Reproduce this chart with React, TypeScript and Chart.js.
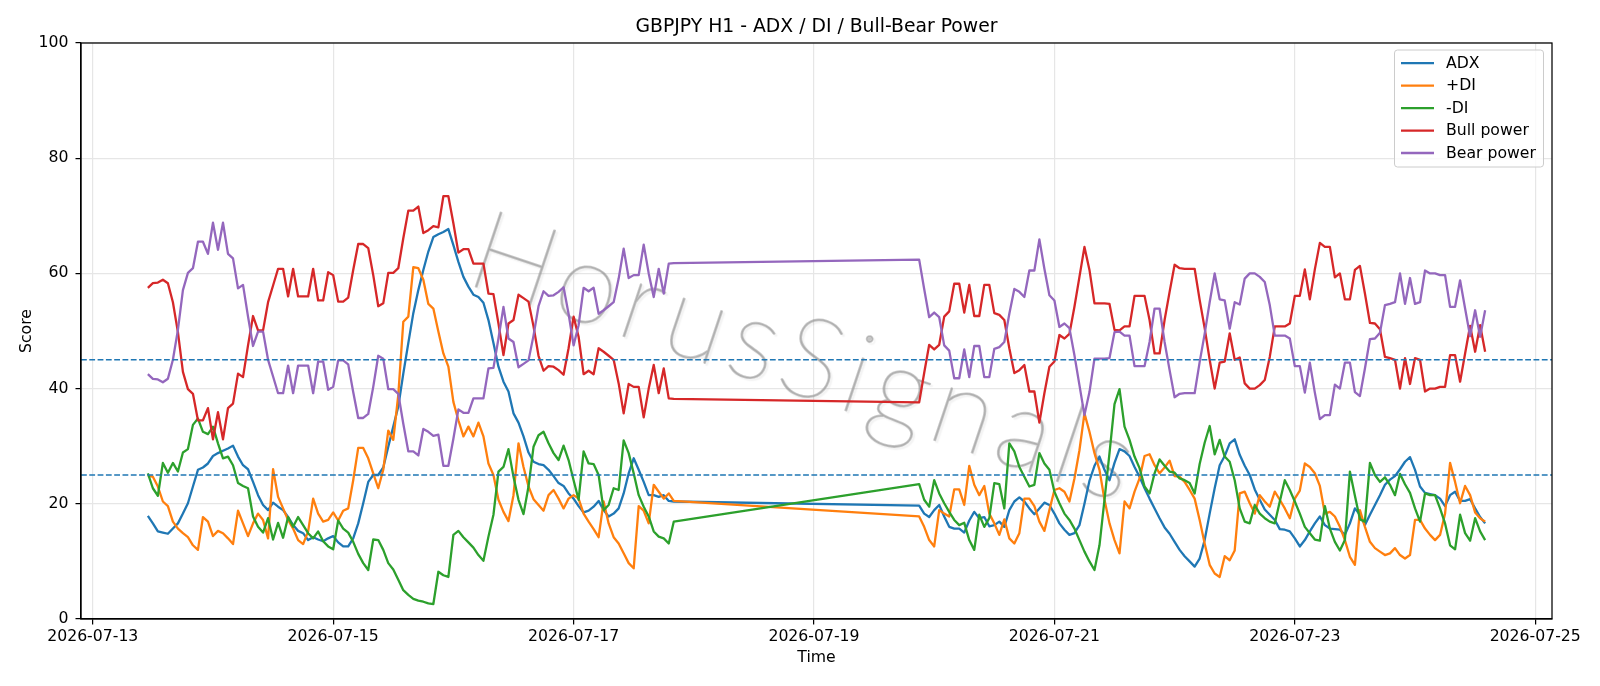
import React, { useEffect, useRef } from "react";
import { Chart, registerables } from "chart.js";

Chart.register(...registerables);

const TITLE = "GBPJPY H1 - ADX / DI / Bull-Bear Power";
const WATERMARK = "HorusSignals";
const X_LABEL = "Time";
const Y_LABEL = "Score";

// hourly candles, two trading sessions (weekend gap in between)
const SESSION_STARTS = ["2026-07-13T11:00:00Z", "2026-07-19T21:00:00Z"];
const X_TICK_LABELS = ["2026-07-13", "2026-07-15", "2026-07-17", "2026-07-19", "2026-07-21", "2026-07-23", "2026-07-25"];
const THRESHOLDS = [45, 25];

const ADX_WEEK1 = [
  17.9, 16.6, 15.2, 15.0, 14.8, 15.7, 16.6, 18.3, 20.1, 23.0,
  25.9, 26.3, 27.0, 28.3, 28.8, 29.2, 29.6, 30.1, 28.2, 26.7,
  26.0, 23.8, 21.5, 19.8, 18.9, 20.2, 19.5, 18.9, 17.7, 16.3,
  15.3, 14.9, 13.7, 14.2, 13.8, 13.5, 14.0, 14.4, 13.3, 12.6,
  12.6, 14.0, 16.6, 20.1, 23.8, 25.0, 25.0, 26.3, 29.9, 33.4,
  36.9, 42.6, 47.9, 53.1, 57.1, 60.6, 63.8, 66.3, 66.8, 67.2,
  67.7, 64.9, 62.0, 59.4, 57.7, 56.3, 55.9, 54.9, 51.9, 47.9,
  43.8, 41.2, 39.5, 35.7, 34.1, 31.7, 28.9, 27.3, 26.9, 26.7,
  25.9, 24.8, 23.6, 23.1, 21.8, 20.9, 19.6, 18.5, 18.8, 19.5,
  20.5, 18.9, 17.8, 18.3, 19.2, 21.8, 25.3, 27.9, 25.9, 23.8,
  21.5, 21.5, 21.2, 21.5, 20.5, 20.4,
];
const ADX_WEEK2 = [
  19.7, 18.3, 17.7, 18.9, 19.8, 17.8, 16.0, 15.7, 15.7, 15.0,
  17.1, 18.6, 17.5, 17.7, 16.1, 16.3, 16.9, 16.0, 18.9, 20.4,
  21.1, 20.4, 19.2, 18.2, 19.2, 20.2, 19.8, 18.3, 16.6, 15.5,
  14.6, 14.9, 16.3, 20.0, 24.0, 26.6, 28.2, 25.9, 24.1, 27.1,
  29.5, 29.1, 28.3, 26.4, 24.7, 22.7, 20.9, 19.2, 17.5, 15.9,
  14.8, 13.4, 12.0, 10.9, 10.0, 9.1, 10.5, 13.7, 18.3, 22.7,
  26.7, 28.3, 30.5, 31.2, 28.5, 26.6, 25.0, 22.5, 20.7, 19.0,
  18.1, 17.2, 15.6, 15.5, 15.2, 14.0, 12.6, 13.7, 15.2, 16.6,
  17.8, 16.3, 15.7, 15.6, 15.5, 14.6, 16.6, 19.2, 18.1, 16.3,
  18.1, 19.8, 21.5, 23.3, 24.2, 24.8, 26.0, 27.3, 28.1, 25.9,
  23.0, 21.9, 21.7, 21.5, 20.9, 19.6, 21.5, 22.1, 20.5, 20.5,
  20.8, 19.2, 17.7, 16.6,
];

const PLUS_DI_WEEK1 = [
  24.8, 24.7, 23.0, 20.4, 19.6, 16.9, 15.7, 14.9, 14.2, 12.8,
  12.0, 17.7, 16.9, 14.4, 15.3, 14.9, 14.0, 13.0, 18.8, 16.6,
  14.4, 16.6, 18.3, 17.2, 14.0, 26.0, 21.2, 19.2, 17.2, 15.7,
  13.7, 13.0, 15.2, 20.9, 18.3, 16.9, 17.2, 18.5, 17.1, 18.8,
  19.2, 24.1, 29.7, 29.7, 27.9, 25.3, 22.7, 25.9, 32.7, 31.1,
  38.9, 51.6, 52.5, 61.1, 60.9, 58.9, 54.7, 53.9, 49.9, 46.1,
  43.8, 37.7, 34.5, 31.7, 33.4, 31.7, 34.1, 31.7, 27.0, 25.0,
  20.7, 18.6, 17.0, 21.5, 30.5, 26.4, 23.0, 20.8, 19.8, 18.8,
  21.5, 22.4, 20.9, 19.2, 20.9, 21.5, 20.9, 18.3, 16.9, 15.6,
  14.2, 20.4, 16.6, 14.2, 13.1, 11.4, 9.7, 8.8, 19.6, 18.8,
  16.6, 23.3, 22.1, 20.9, 21.8, 20.5,
];
const PLUS_DI_WEEK2 = [
  17.8, 16.0, 13.7, 12.6, 18.9, 18.3, 17.8, 22.5, 22.5, 19.8,
  26.6, 23.3, 21.5, 23.1, 18.3, 16.6, 14.6, 17.3, 14.0, 13.1,
  14.9, 20.9, 20.9, 19.6, 16.9, 15.3, 18.9, 22.4, 22.7, 22.1,
  20.4, 24.4, 29.3, 35.7, 32.5, 28.8, 25.9, 20.7, 16.6, 13.7,
  11.4, 20.4, 19.2, 22.1, 24.4, 28.3, 28.6, 26.7, 25.3, 26.3,
  27.5, 24.8, 24.7, 23.8, 22.4, 20.9, 17.2, 13.1, 9.4, 7.9,
  7.3, 10.9, 10.2, 11.9, 21.8, 22.1, 20.1, 18.3, 21.5, 20.4,
  19.5, 22.1, 20.7, 19.2, 17.5, 20.9, 22.3, 27.0, 26.4, 25.3,
  23.1, 18.3, 18.6, 17.8, 16.0, 13.7, 10.8, 9.4, 18.9, 16.0,
  13.4, 12.3, 11.7, 11.1, 11.4, 12.3, 11.1, 10.5, 11.1, 17.2,
  17.2, 15.7, 14.6, 13.7, 14.6, 18.3, 27.1, 23.8, 20.1, 23.1,
  21.5, 18.5, 17.5, 16.9,
];

const MINUS_DI_WEEK1 = [
  25.3, 22.7, 21.4, 27.1, 25.4, 27.1, 25.6, 28.9, 29.5, 33.7,
  34.8, 32.5, 32.1, 33.4, 30.5, 27.9, 28.2, 26.7, 23.6, 23.1,
  22.7, 17.8, 16.0, 15.0, 17.5, 13.8, 16.7, 14.1, 17.7, 16.0,
  17.7, 16.3, 14.9, 14.0, 15.2, 13.5, 12.6, 12.1, 17.1, 15.7,
  15.0, 13.4, 11.3, 9.7, 8.5, 13.8, 13.7, 12.0, 9.7, 8.6,
  6.8, 5.0, 4.2, 3.5, 3.2, 3.0, 2.7, 2.6, 8.2, 7.6,
  7.3, 14.6, 15.3, 14.2, 13.3, 12.4, 11.1, 10.1, 14.3, 18.1,
  25.6, 26.4, 29.5, 24.7, 20.7, 18.2, 23.0, 29.9, 31.9, 32.5,
  30.5, 28.8, 27.6, 30.1, 27.6, 24.1, 20.7, 29.1, 27.0, 26.9,
  25.0, 18.9, 19.8, 22.7, 22.4, 31.0, 28.8, 25.3, 21.5, 19.5,
  17.8, 15.2, 14.3, 14.0, 13.1, 16.9,
];
const MINUS_DI_WEEK2 = [
  23.4, 20.7, 19.5, 24.1, 21.8, 20.1, 18.6, 17.2, 16.3, 16.7,
  13.7, 12.0, 18.1, 16.0, 17.5, 23.6, 23.4, 19.2, 30.5, 29.1,
  26.4, 24.7, 23.0, 23.3, 28.8, 27.0, 25.9, 22.1, 20.1, 18.3,
  17.2, 15.7, 13.7, 11.7, 10.0, 8.5, 12.8, 20.7, 28.8, 37.3,
  39.9, 33.4, 31.1, 28.2, 26.2, 23.0, 21.8, 25.3, 27.7, 26.6,
  25.6, 25.4, 24.4, 24.1, 23.6, 21.8, 26.9, 30.6, 33.5, 28.6,
  31.1, 28.2, 27.3, 24.1, 19.2, 16.9, 16.6, 19.8, 18.3, 17.5,
  16.9, 16.6, 20.4, 24.1, 22.4, 20.4, 18.3, 16.0, 14.9, 13.8,
  13.6, 19.6, 15.7, 13.4, 11.9, 13.7, 25.6, 21.4, 17.3, 16.9,
  27.1, 25.0, 23.8, 24.6, 23.3, 21.5, 25.2, 23.4, 21.9, 19.2,
  16.9, 21.8, 21.5, 21.5, 19.2, 16.6, 12.8, 12.1, 18.1, 14.9,
  13.6, 17.5, 15.2, 13.7,
];

const BULL_WEEK1 = [
  57.5, 58.3, 58.4, 58.9, 58.3, 55.0, 49.8, 42.9, 39.9, 39.1,
  34.5, 34.5, 36.6, 31.2, 35.9, 31.2, 36.6, 37.4, 42.6, 42.0,
  47.5, 52.6, 50.1, 50.1, 55.0, 57.9, 60.8, 60.8, 56.0, 60.8,
  56.0, 56.0, 56.0, 60.8, 55.3, 55.3, 60.2, 59.7, 55.1, 55.1,
  55.8, 60.6, 65.1, 65.1, 64.4, 59.7, 54.3, 54.8, 60.1, 60.1,
  60.9, 66.1, 70.9, 70.9, 71.6, 67.0, 67.5, 68.2, 68.0, 73.4,
  73.4, 68.7, 63.6, 64.2, 64.2, 61.7, 61.7, 61.7, 56.5, 56.4,
  51.3, 45.8, 51.3, 51.9, 56.3, 55.7, 55.1, 50.8, 45.7, 43.1,
  43.9, 43.8, 43.2, 42.4, 47.0, 52.5, 49.0, 42.5, 43.1, 42.5,
  47.0, 46.4, 45.7, 45.0, 40.9, 35.7, 40.8, 40.3, 40.3, 35.0,
  40.0, 44.1, 39.2, 43.5, 38.3, 38.2,
];
const BULL_WEEK2 = [
  37.6, 42.7, 47.6, 46.8, 47.6, 52.5, 53.4, 58.2, 58.2, 53.2,
  58.0, 52.6, 52.6, 58.0, 58.0, 53.1, 52.8, 51.9, 47.0, 42.7,
  43.2, 44.1, 39.5, 39.5, 34.1, 39.2, 43.8, 44.7, 49.3, 48.7,
  49.5, 54.2, 59.4, 64.6, 60.6, 54.8, 54.8, 54.8, 54.7, 50.2,
  50.1, 50.8, 50.8, 56.1, 56.1, 56.1, 51.9, 46.1, 46.1, 51.9,
  56.8, 61.5, 60.9, 60.8, 60.8, 60.8, 55.4, 50.5, 45.0, 40.0,
  44.5, 44.7, 49.6, 45.0, 45.4, 40.9, 40.0, 40.0, 40.6, 41.5,
  45.5, 50.8, 50.8, 50.8, 51.3, 56.1, 56.1, 60.7, 55.5, 60.7,
  65.3, 64.6, 64.6, 59.3, 60.0, 55.5, 55.5, 60.6, 61.3, 56.5,
  51.4, 51.3, 50.3, 45.5, 45.3, 45.0, 40.0, 45.3, 40.8, 45.3,
  45.0, 39.5, 40.0, 40.0, 40.3, 40.3, 45.8, 45.8, 41.2, 46.1,
  50.9, 46.4, 51.0, 46.4,
];

const BEAR_WEEK1 = [
  42.5, 41.7, 41.6, 41.1, 41.7, 45.0, 50.2, 57.1, 60.1, 60.9,
  65.5, 65.5, 63.4, 68.8, 64.1, 68.8, 63.4, 62.6, 57.4, 58.0,
  52.5, 47.4, 49.9, 49.9, 45.0, 42.1, 39.2, 39.2, 44.0, 39.2,
  44.0, 44.0, 44.0, 39.2, 44.7, 44.7, 39.8, 40.3, 44.9, 44.9,
  44.2, 39.4, 34.9, 34.9, 35.6, 40.3, 45.7, 45.2, 39.9, 39.9,
  39.1, 33.9, 29.1, 29.1, 28.4, 33.0, 32.5, 31.8, 32.0, 26.6,
  26.6, 31.3, 36.4, 35.8, 35.8, 38.3, 38.3, 38.3, 43.5, 43.6,
  48.7, 54.2, 48.7, 48.1, 43.7, 44.3, 44.9, 49.2, 54.3, 56.9,
  56.1, 56.2, 56.8, 57.6, 53.0, 47.5, 51.0, 57.5, 56.9, 57.5,
  53.0, 53.6, 54.3, 55.0, 59.1, 64.3, 59.2, 59.7, 59.7, 65.0,
  60.0, 55.9, 60.8, 56.5, 61.7, 61.8,
];
const BEAR_WEEK2 = [
  62.4, 57.3, 52.4, 53.2, 52.4, 47.5, 46.6, 41.8, 41.8, 46.8,
  42.0, 47.4, 47.4, 42.0, 42.0, 46.9, 47.2, 48.1, 53.0, 57.3,
  56.8, 55.9, 60.5, 60.5, 65.9, 60.8, 56.2, 55.3, 50.7, 51.3,
  50.5, 45.8, 40.6, 35.4, 39.4, 45.2, 45.2, 45.2, 45.3, 49.8,
  49.9, 49.2, 49.2, 43.9, 43.9, 43.9, 48.1, 53.9, 53.9, 48.1,
  43.2, 38.5, 39.1, 39.2, 39.2, 39.2, 44.6, 49.5, 55.0, 60.0,
  55.5, 55.3, 50.4, 55.0, 54.6, 59.1, 60.0, 60.0, 59.4, 58.5,
  54.5, 49.2, 49.2, 49.2, 48.7, 43.9, 43.9, 39.3, 44.5, 39.3,
  34.7, 35.4, 35.4, 40.7, 40.0, 44.5, 44.5, 39.4, 38.7, 43.5,
  48.6, 48.7, 49.7, 54.5, 54.7, 55.0, 60.0, 54.7, 59.2, 54.7,
  55.0, 60.5, 60.0, 60.0, 59.7, 59.7, 54.2, 54.2, 58.8, 53.9,
  49.1, 53.6, 49.0, 53.6,
];

const SERIES = [
  { label: "ADX", color: "#1f77b4", weeks: [ADX_WEEK1, ADX_WEEK2] },
  { label: "+DI", color: "#ff7f0e", weeks: [PLUS_DI_WEEK1, PLUS_DI_WEEK2] },
  { label: "-DI", color: "#2ca02c", weeks: [MINUS_DI_WEEK1, MINUS_DI_WEEK2] },
  { label: "Bull power", color: "#d62728", weeks: [BULL_WEEK1, BULL_WEEK2] },
  { label: "Bear power", color: "#9467bd", weeks: [BEAR_WEEK1, BEAR_WEEK2] },
];

const ORIGIN = Date.UTC(2026, 6, 13);
const toHours = (iso: string) => (Date.parse(iso) - ORIGIN) / 3600000;

const FONT = "'DejaVu Sans', 'Liberation Sans', sans-serif";
const FS = 15.7;

export default function App() {
  const canvasRef = useRef<HTMLCanvasElement | null>(null);

  useEffect(() => {
    const canvas = canvasRef.current;
    if (!canvas) return;

    const sessionHours = SESSION_STARTS.map(toHours);
    const buildPoints = (weeks: number[][]) => {
      const pts: { x: number; y: number }[] = [];
      weeks.forEach((vals, k) => {
        vals.forEach((v, n) => pts.push({ x: sessionHours[k] + n, y: v }));
      });
      return pts;
    };

    const firstX = sessionHours[0];
    const lastX = sessionHours[1] + SERIES[0].weeks[1].length - 1;
    const span = lastX - firstX;
    const xMin = firstX - span * 0.05;
    const xMax = lastX + span * 0.05;
    const tickHours = X_TICK_LABELS.map((d) => toHours(d + "T00:00:00Z"));

    const datasets: any[] = SERIES.map((s, i) => ({
      label: s.label,
      data: buildPoints(s.weeks),
      borderColor: s.color,
      backgroundColor: s.color,
      borderWidth: 2.3,
      borderJoinStyle: "round",
      pointRadius: 0,
      tension: 0,
      fill: false,
      order: 10 - i,
    }));
    THRESHOLDS.forEach((t, i) => {
      datasets.push({
        label: "thr" + t,
        data: [{ x: xMin, y: t }, { x: xMax, y: t }],
        borderColor: "#1f77b4",
        borderWidth: 1.5,
        borderDash: [5.8, 2.5],
        pointRadius: 0,
        fill: false,
        order: 1 + i,
      });
    });

    const decor = {
      id: "decor",
      beforeDatasetsDraw(chart: any) {
        const { ctx, chartArea: a } = chart;
        ctx.save();
        ctx.beginPath();
        ctx.rect(a.left, a.top, a.right - a.left, a.bottom - a.top);
        ctx.clip();
        ctx.translate(803, 358);
        ctx.rotate((18.5 * Math.PI) / 180);
        ctx.font = `200 112px Lato, 'Open Sans', ${FONT}`;
        let ls = 0;
        try {
          (ctx as any).letterSpacing = "0px";
          const w0 = ctx.measureText(WATERMARK).width;
          ls = Math.max(0, (700 - w0) / WATERMARK.length);
          (ctx as any).letterSpacing = ls + "px";
        } catch (e) {}
        ctx.textAlign = "center";
        ctx.textBaseline = "middle";
        ctx.shadowColor = "rgba(0,0,0,0.10)";
        ctx.shadowOffsetX = 2;
        ctx.shadowOffsetY = 2;
        ctx.shadowBlur = 1.5;
        ctx.fillStyle = "rgba(150,150,150,0.5)";
        ctx.strokeStyle = "rgba(150,150,150,0.5)";
        ctx.lineWidth = 1.6;
        ctx.lineJoin = "round";
        ctx.strokeText(WATERMARK, ls / 2, 0);
        ctx.shadowColor = "rgba(0,0,0,0)";
        ctx.fillText(WATERMARK, ls / 2, 0);
        ctx.restore();
      },
      afterDraw(chart: any) {
        const { ctx, chartArea: a } = chart;
        ctx.save();
        ctx.strokeStyle = "#000";
        ctx.lineWidth = 1.25;
        ctx.strokeRect(a.left, a.top, a.right - a.left, a.bottom - a.top);

        ctx.fillStyle = "#000";
        ctx.font = `18.8px ${FONT}`;
        ctx.textAlign = "center";
        ctx.textBaseline = "middle";
        ctx.fillText(TITLE, (a.left + a.right) / 2, 27.3);

        // legend (upper right)
        const w = 149;
        const h = 117;
        const lx = a.right - 8.5 - w;
        const ly = a.top + 7;
        ctx.beginPath();
        (ctx as any).roundRect(lx, ly, w, h, 3);
        ctx.fillStyle = "rgba(255,255,255,0.8)";
        ctx.fill();
        ctx.strokeStyle = "#cccccc";
        ctx.lineWidth = 1;
        ctx.stroke();
        ctx.font = `${FS}px ${FONT}`;
        ctx.textAlign = "left";
        SERIES.forEach((s, k) => {
          const y = ly + 13.2 + k * 22.45;
          ctx.beginPath();
          ctx.moveTo(lx + 6.5, y);
          ctx.lineTo(lx + 39.5, y);
          ctx.strokeStyle = s.color;
          ctx.lineWidth = 2.3;
          ctx.stroke();
          ctx.fillStyle = "#000";
          ctx.fillText(s.label, lx + 51.5, y + 0.5);
        });
        ctx.restore();
      },
    };

    const tickFont = { family: FONT, size: FS };
    const gridOpts = {
      color: "#e6e6e6",
      lineWidth: 1.2,
      drawTicks: true,
      tickLength: 5.5,
      tickColor: "#000",
      tickWidth: 1.25,
    };
    const chart = new Chart(canvas, {
      type: "line",
      data: { datasets },
      options: {
        animation: false,
        responsive: false,
        devicePixelRatio: 1,
        events: [],
        layout: { padding: { left: 0, right: 48, top: 43, bottom: 0 } },
        plugins: {
          legend: { display: false },
          title: { display: false },
          tooltip: { enabled: false },
        },
        scales: {
          x: {
            type: "linear",
            min: xMin,
            max: xMax,
            afterBuildTicks: (s: any) => {
              s.ticks = tickHours.map((v) => ({ value: v }));
            },
            afterFit: (s: any) => {
              s.height = 67;
            },
            ticks: {
              autoSkip: false,
              maxRotation: 0,
              padding: 3.5,
              color: "#000",
              font: tickFont,
              callback: (_v: any, i: number) => X_TICK_LABELS[i],
            },
            grid: gridOpts,
            border: { display: true, color: "#000", width: 1.25 },
            title: {
              display: true,
              text: X_LABEL,
              color: "#000",
              font: tickFont,
              padding: { top: 0, bottom: 18.6 },
            },
          },
          y: {
            type: "linear",
            min: 0,
            max: 100,
            afterFit: (s: any) => {
              s.width = 81;
            },
            ticks: { stepSize: 20, padding: 7, color: "#000", font: tickFont },
            grid: gridOpts,
            border: { display: true, color: "#000", width: 1.25 },
            title: {
              display: true,
              text: Y_LABEL,
              color: "#000",
              font: tickFont,
              padding: { top: 17.6, bottom: 0 },
            },
          },
        },
      } as any,
      plugins: [decor],
    });

    return () => chart.destroy();
  }, []);

  return (
    <div style={{ position: "fixed", left: 0, top: 0, width: 1600, height: 686, background: "#fff" }}>
      <canvas ref={canvasRef} width={1600} height={686} style={{ width: 1600, height: 686, display: "block" }} />
    </div>
  );
}
